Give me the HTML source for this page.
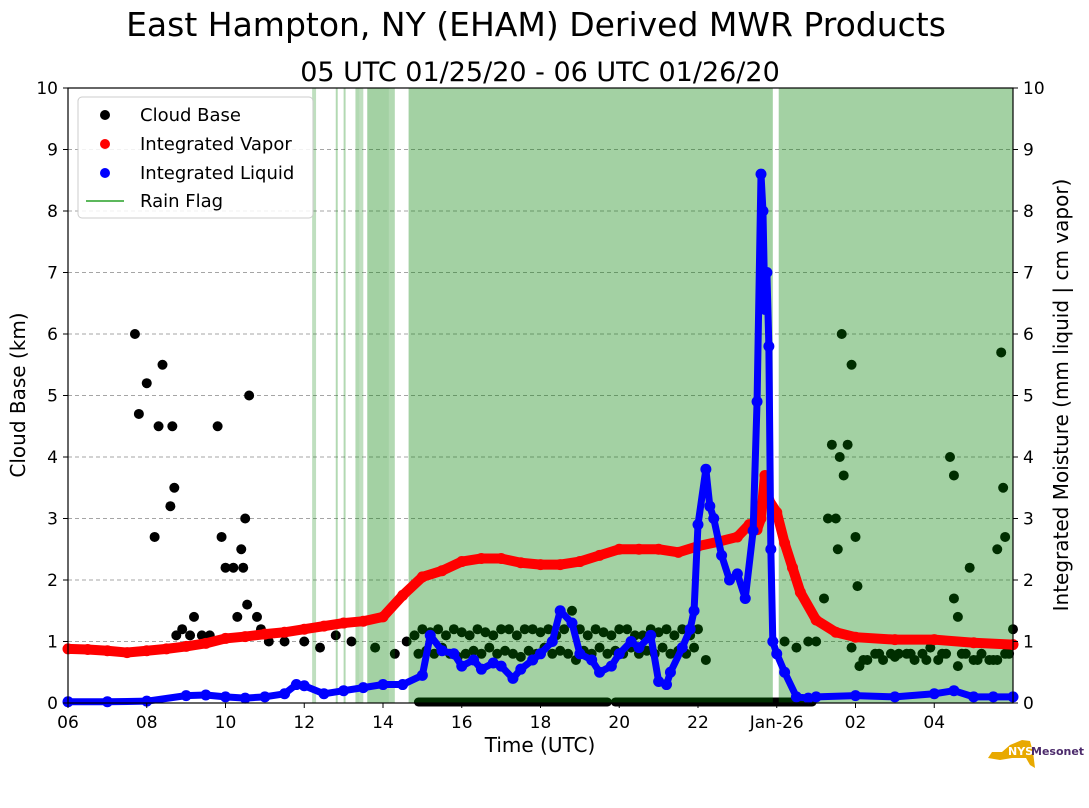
<!DOCTYPE html>
<html><head><meta charset="utf-8"><style>
body{margin:0;background:#fff;font-family:"DejaVu Sans","Liberation Sans",sans-serif}
svg text{font-family:"DejaVu Sans","Liberation Sans",sans-serif}
</style></head><body>
<svg id="chart" width="1089" height="804" viewBox="0 0 1089 804" xmlns="http://www.w3.org/2000/svg">
<text x="536" y="36" font-size="33" text-anchor="middle">East Hampton, NY (EHAM) Derived MWR Products</text>
<text x="540" y="81" font-size="27" text-anchor="middle">05 UTC 01/25/20 - 06 UTC 01/26/20</text>
<g id="grid"></g><g id="cloud"></g><g id="rain"></g><g id="vap"></g><g id="liq"></g><g id="axes"></g>
<g>
<rect x="78" y="97" width="235" height="121" rx="4" fill="#fff" fill-opacity="0.85" stroke="#ccc"/>
<circle cx="105" cy="115" r="5" fill="#000"/><text x="140" y="121" font-size="18">Cloud Base</text>
<circle cx="105" cy="144" r="5" fill="red"/><text x="140" y="150" font-size="18">Integrated Vapor</text>
<circle cx="105" cy="173" r="5" fill="blue"/><text x="140" y="179" font-size="18">Integrated Liquid</text>
<line x1="86" y1="201" x2="124" y2="201" stroke="#5cb85c" stroke-width="2"/><text x="140" y="207" font-size="18">Rain Flag</text>
</g>
<g>
<path d="M1010 745 L1022 740 L1030 741 L1033 752 L1035 768 L1030 765 L1026 758 L1012 758 L1000 760 L988 758 L992 752 L1002 752 Z" fill="#e8a900"/>
<text x="1008" y="755" font-size="11" font-weight="bold" fill="#fff">NYS</text>
<text x="1031" y="755" font-size="11" font-weight="bold" fill="#4b2a6b">Mesonet</text>
</g>
</svg>
<script>
const NS="http://www.w3.org/2000/svg";
const L=68,R=1013,T=88,B=703;
const xs=h=>L+(R-L)*h/24, ys=v=>B-(B-T)*v/10;
const rainRuns=[[6.2,6.3,0.25],[6.8,6.85,0.3],[7.0,7.05,0.3],[7.3,7.4,0.3],[7.4,7.5,0.25],[7.6,8.15,0.36],[8.15,8.3,0.3],[8.65,17.9,0.36],[18.05,24,0.36]];
const vapHours=[0,0.5,1,1.5,2,2.5,3,3.5,4,4.5,5,5.5,6,6.5,7,7.5,8,8.5,9,9.5,10,10.5,11,11.5,12,12.5,13,13.5,14,14.5,15,15.5,16,16.5,17,17.3,17.5,17.6,17.7,17.8,18,18.2,18.4,18.6,19,19.5,20,21,22,23,24];
const vapVals=[0.88,0.87,0.85,0.82,0.85,0.88,0.92,0.97,1.05,1.08,1.12,1.15,1.2,1.25,1.3,1.33,1.4,1.75,2.05,2.15,2.3,2.35,2.35,2.28,2.25,2.25,2.3,2.4,2.5,2.5,2.5,2.45,2.55,2.62,2.7,2.9,2.82,3.0,3.7,3.3,3.1,2.6,2.2,1.8,1.35,1.15,1.07,1.03,1.03,0.98,0.95];
const liqHours=[0,1,2,3,3.5,4,4.5,5,5.5,5.8,6,6.5,7,7.5,8,8.5,9,9.2,9.5,9.8,10,10.3,10.5,10.8,11,11.3,11.5,11.8,12,12.3,12.5,12.8,13,13.3,13.5,13.8,14,14.3,14.5,14.8,15,15.2,15.3,15.6,15.8,15.9,16,16.2,16.3,16.4,16.6,16.8,17,17.2,17.4,17.5,17.6,17.65,17.7,17.75,17.8,17.85,17.9,18,18.2,18.5,18.8,19,20,21,22,22.5,23,23.5,24];
const liqVals=[0.02,0.02,0.03,0.12,0.13,0.1,0.08,0.1,0.15,0.3,0.28,0.15,0.2,0.25,0.3,0.3,0.45,1.1,0.85,0.8,0.6,0.7,0.55,0.65,0.6,0.4,0.55,0.7,0.8,1.0,1.5,1.3,0.8,0.7,0.5,0.6,0.8,1.0,0.9,1.1,0.35,0.3,0.5,0.9,1.2,1.5,2.9,3.8,3.2,3.0,2.4,2.0,2.1,1.7,2.8,4.9,8.6,8.0,6.4,7.0,5.8,2.5,1.0,0.8,0.5,0.1,0.08,0.1,0.12,0.1,0.15,0.2,0.1,0.1,0.1];
const cbHours=[1.7,1.8,2.0,2.3,2.4,2.2,2.65,2.6,2.7,2.75,2.9,3.1,3.2,3.4,3.6,3.8,3.9,4.0,4.2,4.3,4.4,4.45,4.5,4.55,4.6,4.8,4.9,5.1,5.5,6.0,6.4,6.8,7.2,7.8,8.3,8.6,19.2,19.3,19.4,19.5,19.55,19.6,19.65,19.7,19.8,19.9,20.0,20.05,22.4,22.5,22.5,22.6,22.9,23.6,23.7,23.75,23.8,
8.8,9.0,9.2,9.4,9.6,9.8,10.0,10.2,10.4,10.6,10.8,11.0,11.2,11.4,11.6,11.8,12.0,12.2,12.4,12.6,12.8,13.0,13.2,13.4,13.6,13.8,14.0,14.2,14.4,14.6,14.8,15.0,15.2,15.4,15.6,15.8,16.0,16.2,
8.9,9.1,9.3,9.5,9.7,9.9,10.1,10.3,10.5,10.7,10.9,11.1,11.3,11.5,11.7,11.9,12.1,12.3,12.5,12.7,12.9,13.1,13.3,13.5,13.7,13.9,14.1,14.3,14.5,14.7,14.9,15.1,15.3,15.5,15.7,15.9,
18.2,18.5,18.8,19.0,19.9,20.1,20.3,20.5,20.7,20.9,21.1,21.3,21.5,21.7,21.9,22.1,22.3,22.6,22.8,23.0,23.2,23.4,23.6,23.8,24,20.2,20.6,21.0,21.4,21.8,22.2,22.7,23.1,23.5,23.9];
const cbKm=[6,4.7,5.2,4.5,5.5,2.7,4.5,3.2,3.5,1.1,1.2,1.1,1.4,1.1,1.1,4.5,2.7,2.2,2.2,1.4,2.5,2.2,3,1.6,5,1.4,1.2,1.0,1.0,1.0,0.9,1.1,1.0,0.9,0.8,1.0,1.7,3,4.2,3,2.5,4,6,3.7,4.2,5.5,2.7,1.9,4,3.7,1.7,1.4,2.2,2.5,5.7,3.5,2.7,
1.1,1.2,1.15,1.2,1.1,1.2,1.15,1.1,1.2,1.15,1.1,1.2,1.2,1.1,1.2,1.2,1.15,1.2,1.1,1.2,1.5,1.2,1.1,1.2,1.15,1.1,1.2,1.2,1.1,1.1,1.2,1.15,1.2,1.1,1.2,1.1,1.2,0.7,
0.8,0.85,0.8,0.9,0.8,0.75,0.8,0.85,0.8,0.9,0.8,0.85,0.8,0.75,0.85,0.8,0.9,0.8,0.85,0.8,0.7,0.85,0.8,0.9,0.8,0.85,0.8,0.9,0.8,0.85,0.8,0.9,0.8,0.85,0.8,0.9,
1.0,0.9,1.0,1.0,0.9,0.6,0.7,0.8,0.7,0.8,0.8,0.8,0.7,0.8,0.9,0.7,0.8,0.6,0.8,0.7,0.8,0.7,0.7,0.8,1.2,0.7,0.8,0.75,0.8,0.7,0.8,0.8,0.7,0.7,0.8];
const cbZeroRuns=[[8.9,13.7],[13.9,18.9]];
const xTicks=[0,2,4,6,8,10,12,14,16,18,20,22];
const xLabels=["06","08","10","12","14","16","18","20","22","Jan-26","02","04"];
const yTicks=[0,1,2,3,4,5,6,7,8,9,10];
function el(tag,attrs,parent){const e=document.createElementNS(NS,tag);for(const k in attrs)e.setAttribute(k,attrs[k]);parent.appendChild(e);return e;}
const g=id=>document.getElementById(id);
yTicks.forEach(v=>{if(v>0&&v<10){const l=el('line',{x1:L,x2:R,y1:ys(v),y2:ys(v),stroke:'#888','stroke-dasharray':'4,3','stroke-width':0.8},g('grid'));

}});
cbHours.forEach((h,i)=>{const c=el('circle',{cx:xs(h),cy:ys(cbKm[i]),r:5,fill:'#000'},g('cloud'));

});
cbZeroRuns.forEach(r=>{const l=el('line',{x1:xs(r[0]),x2:xs(r[1]),y1:ys(0)-1,y2:ys(0)-1,stroke:'#000','stroke-width':9,'stroke-linecap':'round'},g('cloud'));

});
rainRuns.forEach(r=>{const rc=el('rect',{x:xs(r[0]),y:T,width:xs(r[1])-xs(r[0]),height:B-T,fill:'#008000','fill-opacity':r[2]},g('rain'));

});
function series(hs,vs,col,gid,name,w){
 const p=el('polyline',{points:hs.map((h,i)=>xs(h)+','+ys(vs[i])).join(' '),fill:'none',stroke:col,'stroke-width':w,'stroke-linejoin':'round','stroke-linecap':'round'},g(gid));
 
 
 hs.forEach((h,i)=>{const c=el('circle',{cx:xs(h),cy:ys(vs[i]),r:5.5,fill:col},g(gid));
 
 });
}
series(vapHours,vapVals,'red','vap','integrated-vapor',10);
series(liqHours,liqVals,'blue','liq','integrated-liquid',7);
const ax=g('axes');
const fr=el('rect',{x:L,y:T,width:R-L,height:B-T,fill:'none',stroke:'#000','stroke-width':1.2},ax);


yTicks.forEach(v=>{
 el('line',{x1:L-5,x2:L,y1:ys(v),y2:ys(v),stroke:'#000'},ax);
 el('line',{x1:R,x2:R+5,y1:ys(v),y2:ys(v),stroke:'#000'},ax);
 const t=el('text',{x:L-10,y:ys(v)+6,'font-size':17,'text-anchor':'end'},ax);t.textContent=v;
 
 
 const t2=el('text',{x:R+10,y:ys(v)+6,'font-size':17},ax);t2.textContent=v;
 
 
});
xTicks.forEach((h,i)=>{
 el('line',{x1:xs(h),x2:xs(h),y1:B,y2:B+5,stroke:'#000'},ax);
 const t=el('text',{x:xs(h),y:B+25,'font-size':17,'text-anchor':'middle'},ax);t.textContent=xLabels[i];
 
 
});
const xt=el('text',{x:540,y:752,'font-size':20,'text-anchor':'middle'},ax);xt.textContent='Time (UTC)';


const yt=el('text',{x:25,y:395,'font-size':20,'text-anchor':'middle',transform:'rotate(-90 25 395)'},ax);yt.textContent='Cloud Base (km)';


const yt2=el('text',{x:1068,y:395,'font-size':20,'text-anchor':'middle',transform:'rotate(-90 1068 395)'},ax);yt2.textContent='Integrated Moisture (mm liquid | cm vapor)';


</script>
</body></html>
